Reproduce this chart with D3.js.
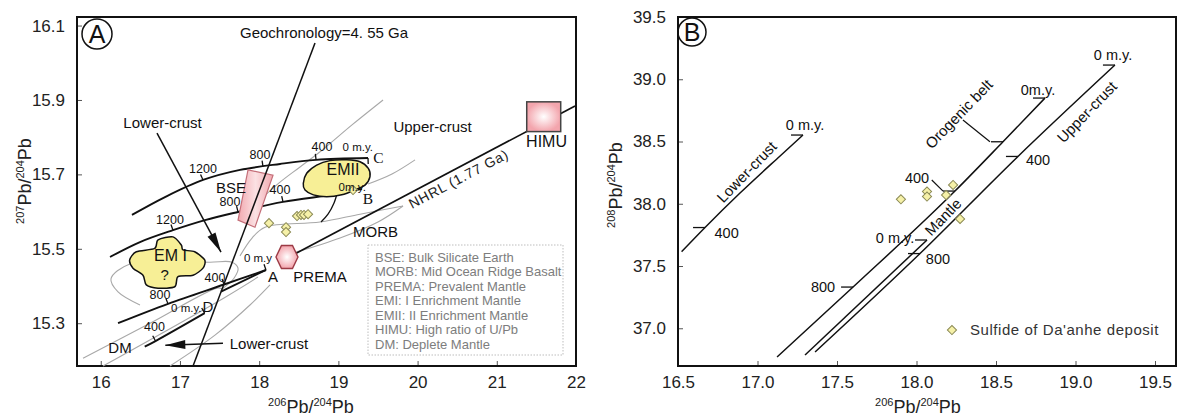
<!DOCTYPE html>
<html>
<head>
<meta charset="utf-8">
<script src="https://cdn.jsdelivr.net/npm/d3@7"></script>
<style>
  body { margin: 0; background: #fff; }
  text { font-family: "Liberation Sans", Arial, sans-serif; }
</style>
</head>
<body>
<div id="chart"></div>
<script>
// ---------- Panel A : 207Pb/204Pb vs 206Pb/204Pb ----------
var aXTicks = [16, 17, 18, 19, 20, 21, 22];
var aYTicks = [15.3, 15.5, 15.7, 15.9, 16.1];
var aSamples = [[18.124, 15.569], [18.339, 15.558], [18.339, 15.545], [18.478, 15.588],
                [18.528, 15.591], [18.566, 15.591], [18.617, 15.593], [19.185, 15.658]];

// growth curves (black)
var curveC = [[16.394, 15.591], [16.811, 15.639], [17.291, 15.685], [17.758, 15.712], [18.263, 15.728], [18.718, 15.739], [19.374, 15.744]];
var curveB = [[16.117, 15.478], [16.495, 15.518], [16.912, 15.550], [17.316, 15.577], [17.733, 15.599], [18.301, 15.626], [18.983, 15.647], [19.298, 15.661]];
var curveA = [[16.218, 15.300], [16.849, 15.352], [17.556, 15.404], [18.086, 15.443]];
var lineA2 = [[17.518, 15.385], [18.086, 15.443]];
var curveD = [[16.555, 15.237], [16.691, 15.252], [17.312, 15.327]];
var arcB = [[18.995, 15.658], [18.945, 15.623], [18.869, 15.593], [18.781, 15.572]];
var nhrl = [[18.351, 15.475], [21.988, 15.884]];
var geochron = [[18.705, 16.053], [17.165, 15.185]];
var arrowTop = [[16.710, 15.811], [17.518, 15.491]];
var arrowBottom = [[17.543, 15.246], [16.815, 15.241]];

// age ticks on the curves
var aAgeTicks = [
  ["C", 17.291, 15.685, "1200"], ["C", 18.048, 15.721, "800"], ["C", 18.718, 15.739, "400"],
  ["B", 16.912, 15.550, "1200"], ["B", 17.733, 15.599, "800"], ["B", 18.301, 15.626, "400"],
  ["A", 16.849, 15.352, "800"], ["A", 17.556, 15.404, "400"],
  ["D", 16.691, 15.252, "400"]
];
var aTickLabelShift = [[0, -11], [-3, -12], [6, -13], [-3, -11], [-8, -10], [-3, -12], [-8, -9], [-9, -7], [-1, -14]];

// reservoirs
var bseBox = [[17.859, 15.712], [18.175, 15.698], [17.947, 15.558], [17.733, 15.577]];
var prema = [18.351, 15.478];
var himu = [[21.378, 15.895], [21.807, 15.815]];
var emI = [[16.723, 15.524], [16.912, 15.532], [17.017, 15.510], [17.038, 15.497], [17.186, 15.492], [17.312, 15.470],
           [17.291, 15.448], [17.165, 15.429], [16.975, 15.425], [16.934, 15.398], [16.723, 15.394], [16.575, 15.403],
           [16.533, 15.429], [16.407, 15.448], [16.365, 15.470], [16.449, 15.492], [16.681, 15.501]];
var emII = [[18.557, 15.676], [18.600, 15.703], [18.726, 15.725], [18.894, 15.737], [19.105, 15.739], [19.273, 15.734],
            [19.378, 15.716], [19.399, 15.694], [19.336, 15.671], [19.210, 15.658], [19.042, 15.645], [18.853, 15.640],
            [18.684, 15.645], [18.579, 15.658]];

// field outlines (grey)
var aFields = [
  [[19.564, 15.900], [19.172, 15.833], [18.793, 15.765], [18.516, 15.720], [18.263, 15.679], [18.036, 15.636]],
  [[19.374, 15.674], [19.677, 15.701], [19.968, 15.739]],
  [[19.816, 15.615], [19.273, 15.593], [18.768, 15.572], [18.074, 15.558], [17.910, 15.529], [17.758, 15.481]],
  [[18.465, 15.491], [19.021, 15.529], [19.500, 15.572], [19.816, 15.615]],
  [[15.776, 15.206], [16.622, 15.300], [17.480, 15.395], [17.531, 15.392]],
  [[17.531, 15.392], [17.682, 15.421], [17.733, 15.448], [17.657, 15.464], [17.379, 15.464], [16.369, 15.459],
   [16.129, 15.419], [16.218, 15.384], [16.495, 15.349]],
  [[16.028, 15.185], [17.556, 15.368], [17.985, 15.424]],
  [[16.874, 15.185], [17.442, 15.268], [17.884, 15.349], [18.137, 15.403]]
];

var aLabels = [
  ["Lower-crust", 16.780, 15.838], ["Upper-crust", 20.189, 15.827], ["BSE", 17.644, 15.663],
  ["MORB", 19.469, 15.545], ["PREMA", 18.768, 15.424], ["A", 18.175, 15.424],
  ["?", 16.807, 15.429], ["D", 17.354, 15.343], ["DM", 16.243, 15.235]
];
var aBigLabels = [["EMII", 19.059, 15.713], ["EM I", 16.881, 15.483], ["HIMU", 21.628, 15.788]];
var aSmallLabels = [["0 m.y", 17.985, 15.475], ["0 m.y.", 17.080, 15.340], ["0 m.y.", 19.245, 15.775], ["0m.y.", 19.175, 15.667]];
var aSerifLabels = [["C", 19.505, 15.746], ["B", 19.374, 15.636]];
var aLegend = ["BSE: Bulk Silicate Earth", "MORB: Mid Ocean Ridge Basalt", "PREMA: Prevalent Mantle",
               "EMI: I Enrichment Mantle", "EMII: II Enrichment Mantle", "HIMU: High ratio of U/Pb", "DM: Deplete Mantle"];

// ---------- Panel B : 208Pb/204Pb vs 206Pb/204Pb ----------
var bXTicks = [16.5, 17.0, 17.5, 18.0, 18.5, 19.0, 19.5];
var bYTicks = [37.0, 37.5, 38.0, 38.5, 39.0, 39.5];
var bSamples = [[17.902, 38.036], [18.066, 38.098], [18.066, 38.058], [18.186, 38.070], [18.230, 38.151], [18.274, 37.878]];
var lowerCrust = [[16.523, 37.615], [16.670, 37.809], [16.890, 38.086], [17.142, 38.384], [17.286, 38.552]];
var orogene = [[17.123, 36.769], [17.601, 37.331], [18.242, 38.102], [18.544, 38.498], [18.808, 38.849]];
var mantle = [[17.299, 36.785], [18.066, 37.709]];
var upperCrust = [[17.362, 36.809], [18.022, 37.600], [18.638, 38.380], [19.248, 39.114]];
var bTicks = [[16.670, 37.809], [17.286, 38.552], [17.601, 37.331], [18.242, 38.102], [18.544, 38.498],
              [18.808, 38.849], [18.066, 37.709], [18.022, 37.600], [18.638, 38.380], [19.248, 39.114]];
var bLeaders = [[[18.096, 38.191], [18.167, 38.102]], [[18.292, 38.673], [18.462, 38.498]]];
var bLabels = [["0 m.y.", 17.299, 38.633], ["400", 16.806, 37.763], ["0m.y.", 18.764, 38.914], ["0 m.y.", 19.236, 39.195],
               ["400", 18.764, 38.351], ["400", 18.003, 38.207], ["0 m.y.", 17.865, 37.725], ["800", 18.135, 37.556],
               ["800", 17.412, 37.331]];
var bCurveNames = [["Lower-crust", 16.932, 38.255], ["Orogenic belt", 18.267, 38.721], ["Upper-crust", 19.072, 38.737], ["Mantle", 18.167, 37.894]];
var bLegendText = "Sulfide of Da'anhe deposit";

var W = 1181, H = 417;
var svg = d3.select("#chart").append("svg").attr("width", W).attr("height", H);
var defs = svg.append("defs");

// gradients for the reservoir boxes
var g1 = defs.append("linearGradient").attr("id", "bseGrad").attr("x1", 0).attr("x2", 1).attr("y1", 0).attr("y2", 0);
g1.append("stop").attr("offset", "0%").attr("stop-color", "#f2a9b0");
g1.append("stop").attr("offset", "50%").attr("stop-color", "#fbe1e3");
g1.append("stop").attr("offset", "100%").attr("stop-color", "#f2a9b0");
var g2 = defs.append("radialGradient").attr("id", "pinkGrad");
g2.append("stop").attr("offset", "0%").attr("stop-color", "#ffffff");
g2.append("stop").attr("offset", "100%").attr("stop-color", "#f3a5ad");

defs.append("marker").attr("id", "arrow").attr("markerUnits", "userSpaceOnUse")
  .attr("viewBox", "-21 -6 22 12").attr("refX", 0).attr("refY", 0)
  .attr("markerWidth", 22).attr("markerHeight", 12).attr("orient", "auto")
  .append("path").attr("d", "M0,0L-20,-4.5L-20,4.5Z").attr("fill", "#111");

var ax = d3.scaleLinear().domain([15.7, 22]).range([77, 576]);
var ay = d3.scaleLinear().domain([15.185, 16.123]).range([366, 17]);
var bx = d3.scaleLinear().domain([16.5, 19.632]).range([678, 1176]);
var by = d3.scaleLinear().domain([36.697, 39.5]).range([366, 17]);

function drawAxes(g, x, y, xt, yt, xf) {
  var xa = d3.axisBottom(x).tickValues(xt).tickFormat(xf).tickSizeInner(-5).tickSizeOuter(0).tickPadding(10);
  var ya = d3.axisLeft(y).tickValues(yt).tickFormat(d3.format(".1f")).tickSizeInner(-5).tickSizeOuter(0).tickPadding(12);
  var gx = g.append("g").attr("transform", "translate(0," + y.range()[0] + ")").call(xa);
  var gy = g.append("g").attr("transform", "translate(" + x.range()[0] + ",0)").call(ya);
  [gx, gy].forEach(function(a) {
    a.select(".domain").remove();
    a.selectAll("line").attr("stroke", "#555");
    a.selectAll("text").attr("font-size", 17).attr("fill", "#222")
      .style("font-family", "'Liberation Sans', Arial, sans-serif");
  });
  g.append("rect").attr("x", x.range()[0]).attr("y", y.range()[1])
    .attr("width", x.range()[1] - x.range()[0]).attr("height", y.range()[0] - y.range()[1])
    .attr("fill", "none").attr("stroke", "#111").attr("stroke-width", 2);
}

function axisTitle(g, px, py, top, rot) {
  var t = g.append("text").attr("transform", "translate(" + px + "," + py + ")" + (rot ? " rotate(-90)" : ""))
    .attr("text-anchor", "middle").attr("font-size", 18).attr("fill", "#222");
  t.append("tspan").attr("font-size", 11).attr("dy", -7).text(top);
  t.append("tspan").attr("dy", 7).text("Pb/");
  t.append("tspan").attr("font-size", 11).attr("dy", -7).text("204");
  t.append("tspan").attr("dy", 7).text("Pb");
}

function badge(g, cx, cy, r, letter) {
  g.append("circle").attr("cx", cx).attr("cy", cy).attr("r", r).attr("fill", "none").attr("stroke", "#111").attr("stroke-width", 1.5);
  g.append("text").attr("x", cx).attr("y", cy).attr("dy", "0.36em").attr("text-anchor", "middle")
    .attr("font-size", 25).attr("fill", "#111").text(letter);
}

function diamonds(g, data, x, y) {
  g.selectAll(null).data(data).enter().append("path")
    .attr("d", d3.symbol().type(d3.symbolSquare).size(42))
    .attr("transform", function(d) { return "translate(" + x(d[0]) + "," + y(d[1]) + ") rotate(45)"; })
    .attr("fill", "#f6f1a8").attr("stroke", "#8b8a55").attr("stroke-width", 1);
}

// unit normal (pointing up) of a curve near x value
function normalAt(pts, xs, ys, xv) {
  var P = pts.map(function(d) { return [xs(d[0]), ys(d[1])]; });
  var px = xs(xv), i = 0;
  while (i < P.length - 2 && P[i + 1][0] < px) i++;
  var dx = P[i + 1][0] - P[i][0], dy = P[i + 1][1] - P[i][1];
  var L = Math.hypot(dx, dy);
  return [dy / L, -dx / L];
}

function textSet(g, data, x, y, size) {
  return g.selectAll(null).data(data).enter().append("text")
    .attr("x", function(d) { return x(d[1]); }).attr("y", function(d) { return y(d[2]); }).attr("dy", "0.35em")
    .attr("text-anchor", "middle").attr("font-size", size).attr("fill", "#111").text(function(d) { return d[0]; });
}

// ---------------- Panel A ----------------
var A = svg.append("g");
drawAxes(A, ax, ay, aXTicks, aYTicks, d3.format("d"));
axisTitle(A, 311, 413, "206", false);
axisTitle(A, 31, 181, "207", true);

var aLine = d3.line().x(function(d) { return ax(d[0]); }).y(function(d) { return ay(d[1]); }).curve(d3.curveCatmullRom);

A.selectAll(".field").data(aFields).enter().append("path")
  .attr("d", aLine).attr("fill", "none").attr("stroke", "#a8a8a8").attr("stroke-width", 1.1);

var curves = { C: curveC, B: curveB, A: curveA, D: curveD };
[curveC, curveB, curveA, curveD, lineA2].forEach(function(c) {
  A.append("path").attr("d", aLine(c)).attr("fill", "none").attr("stroke", "#111").attr("stroke-width", 1.9);
});
A.append("path").attr("d", aLine(arcB)).attr("fill", "none").attr("stroke", "#111").attr("stroke-width", 1.3);

// age ticks + labels
aAgeTicks.forEach(function(t, i) {
  var n = normalAt(curves[t[0]], ax, ay, t[1]);
  var px = ax(t[1]), py = ay(t[2]);
  A.append("line").attr("x1", px).attr("y1", py).attr("x2", px + n[0] * 6).attr("y2", py + n[1] * 6)
    .attr("stroke", "#111").attr("stroke-width", 1.3);
  A.append("text").attr("x", px + aTickLabelShift[i][0]).attr("y", py + aTickLabelShift[i][1]).attr("dy", "0.35em")
    .attr("text-anchor", "middle").attr("font-size", 12.5).attr("fill", "#111").text(t[3]);
});
// 0 m.y. end ticks
[["C", -1], ["A", 1], ["D", 1]].forEach(function(e) {
  var c = curves[e[0]], p = c[c.length - 1];
  var n = normalAt(c, ax, ay, p[0]);
  A.append("line").attr("x1", ax(p[0])).attr("y1", ay(p[1]))
    .attr("x2", ax(p[0]) + n[0] * 6 * e[1]).attr("y2", ay(p[1]) + n[1] * 6 * e[1])
    .attr("stroke", "#111").attr("stroke-width", 1.3);
});

// BSE box and geochron
var straight = d3.line().x(function(d) { return ax(d[0]); }).y(function(d) { return ay(d[1]); });
A.append("path").attr("d", straight(bseBox) + "Z")
  .attr("fill", "url(#bseGrad)").attr("stroke", "#c46f79").attr("stroke-width", 1.2);
A.append("path").attr("d", straight(geochron)).attr("stroke", "#111").attr("stroke-width", 1.5);
A.append("path").attr("d", straight(nhrl)).attr("stroke", "#111").attr("stroke-width", 1.7);

// arrows
[arrowTop, arrowBottom].forEach(function(a) {
  A.append("line").attr("x1", ax(a[0][0])).attr("y1", ay(a[0][1])).attr("x2", ax(a[1][0])).attr("y2", ay(a[1][1]))
    .attr("stroke", "#111").attr("stroke-width", 1.5).attr("marker-end", "url(#arrow)");
});

// EM blobs
var blob = d3.line().x(function(d) { return ax(d[0]); }).y(function(d) { return ay(d[1]); }).curve(d3.curveCardinalClosed.tension(0.2));
[emI, emII].forEach(function(b) {
  A.append("path").attr("d", blob(b)).attr("fill", "#f7ef96").attr("stroke", "#111").attr("stroke-width", 1.5);
});

// PREMA hexagon and HIMU square
var hx = ax(prema[0]), hy = ay(prema[1]);
A.append("path").attr("d", "M" + [[-11, 0], [-5.5, -11.5], [5.5, -11.5], [11, 0], [5.5, 11.5], [-5.5, 11.5]]
  .map(function(p) { return (hx + p[0]) + "," + (hy + p[1]); }).join("L") + "Z")
  .attr("fill", "url(#pinkGrad)").attr("stroke", "#9c3a45").attr("stroke-width", 1.4);
A.append("rect").attr("x", ax(himu[0][0])).attr("y", ay(himu[0][1]))
  .attr("width", ax(himu[1][0]) - ax(himu[0][0])).attr("height", ay(himu[1][1]) - ay(himu[0][1]))
  .attr("fill", "url(#pinkGrad)").attr("stroke", "#444").attr("stroke-width", 1.5);

diamonds(A, aSamples, ax, ay);

// labels
textSet(A, aLabels, ax, ay, 15);
textSet(A, aBigLabels, ax, ay, 16);
textSet(A, aSmallLabels, ax, ay, 11.5);
textSet(A, aSerifLabels, ax, ay, 15.5).style("font-family", "'Liberation Serif', 'Times New Roman', serif");
A.append("text").attr("x", ax(17.628)).attr("y", ay(15.246)).attr("dy", "0.35em")
  .attr("font-size", 15).attr("fill", "#111").text("Lower-crust");
A.append("text").attr("x", ax(17.758)).attr("y", ay(16.080)).attr("dy", "0.35em")
  .attr("font-size", 15).attr("fill", "#111").text("Geochronology=4. 55 Ga");
var nAng = Math.atan2(ay(nhrl[1][1]) - ay(nhrl[0][1]), ax(nhrl[1][0]) - ax(nhrl[0][0])) * 180 / Math.PI;
A.append("text").attr("transform", "translate(" + ax(19.930) + "," + ay(15.607) + ") rotate(" + nAng + ")")
  .attr("font-size", 14).attr("letter-spacing", 0.7).attr("fill", "#222").text("NHRL (1.77 Ga)");

badge(A, 97, 34, 15, "A");

// legend box
A.append("rect").attr("x", 368).attr("y", 245).attr("width", 195).attr("height", 110)
  .attr("fill", "#fff").attr("stroke", "#bdbdbd").attr("stroke-dasharray", "1.5,1.5");
A.selectAll(null).data(aLegend).enter().append("text")
  .attr("x", 375).attr("y", function(d, i) { return 257 + i * 14.5; }).attr("dy", "0.35em")
  .attr("font-size", 13).attr("fill", "#7d7d7d").text(function(d) { return d; });

// ---------------- Panel B ----------------
var B = svg.append("g");
drawAxes(B, bx, by, bXTicks, bYTicks, d3.format(".1f"));
axisTitle(B, 918, 413, "206", false);
axisTitle(B, 622, 185, "208", true);

var bLine = d3.line().x(function(d) { return bx(d[0]); }).y(function(d) { return by(d[1]); }).curve(d3.curveMonotoneX);
[lowerCrust, orogene, mantle, upperCrust].forEach(function(c) {
  B.append("path").attr("d", bLine(c)).attr("fill", "none").attr("stroke", "#111").attr("stroke-width", 1.5);
});
bTicks.forEach(function(t) {
  B.append("line").attr("x1", bx(t[0])).attr("y1", by(t[1])).attr("x2", bx(t[0]) - 12).attr("y2", by(t[1]))
    .attr("stroke", "#111").attr("stroke-width", 1.3);
});
bLeaders.forEach(function(l) {
  B.append("path").attr("d", d3.line().x(function(d) { return bx(d[0]); }).y(function(d) { return by(d[1]); })(l))
    .attr("fill", "none").attr("stroke", "#111").attr("stroke-width", 1.2);
});
textSet(B, bLabels, bx, by, 14.5);
B.selectAll(null).data(bCurveNames).enter().append("text")
  .attr("transform", function(d) { return "translate(" + bx(d[1]) + "," + by(d[2]) + ") rotate(-46)"; })
  .attr("dy", "0.35em").attr("text-anchor", "middle").attr("font-size", 15).attr("fill", "#111")
  .text(function(d) { return d[0]; });

diamonds(B, bSamples, bx, by);
badge(B, 692, 32, 14, "B");

// legend
diamonds(B, [[18.223, 36.986]], bx, by);
B.append("text").attr("x", 970).attr("y", by(36.986)).attr("dy", "0.35em")
  .attr("font-size", 15).attr("letter-spacing", 0.55).attr("fill", "#333").text(bLegendText);
</script>
</body>
</html>
